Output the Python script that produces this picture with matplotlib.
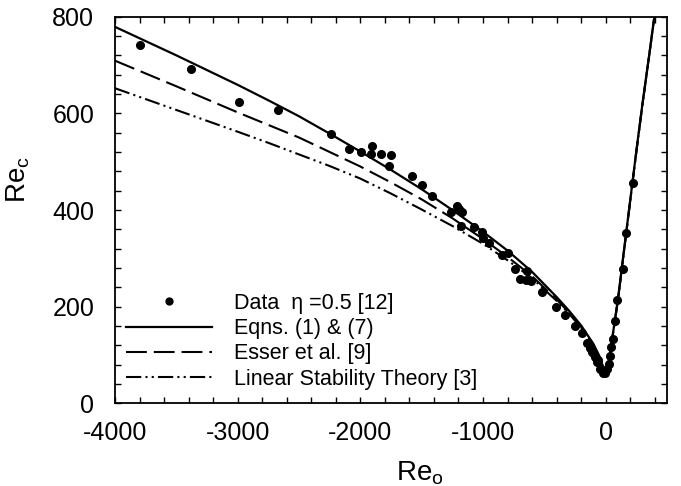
import matplotlib
matplotlib.use('Agg')
import matplotlib.pyplot as plt
from matplotlib.ticker import MultipleLocator

plt.rcParams['font.family'] = ['Liberation Sans', 'DejaVu Sans']
plt.rcParams['mathtext.fontset'] = 'custom'
plt.rcParams['mathtext.rm'] = 'Liberation Sans'
plt.rcParams['mathtext.it'] = 'Liberation Sans:italic'
plt.rcParams['lines.scale_dashes'] = False
plt.rcParams['axes.unicode_minus'] = False

# measured data, eta = 0.5
data_reo = [-3796, -3380, -2986, -2668, -2241, -2094, -1991, -1902, -1910, -1833,
            -1752, -1768, -1581, -1494, -1412, -1262, -1214, -1195, -1173, -1181,
            -1072, -1005, -997, -948, -847, -793, -739, -698, -644, -649,
            -611, -521, -404, -331, -249, -195, -154, -130, -113, -99,
            -85, -72, -59, -45, -30, -18, -5,
            12, 25, 34, 42, 56, 78, 96, 139, 165, 219]
data_rec = [741, 691, 623, 606, 557, 526, 521, 532, 515, 516,
            514, 492, 471, 452, 429, 396, 409, 402, 395, 367,
            364, 354, 343, 331, 307, 310, 277, 257, 274, 255,
            254, 230, 200, 183, 160, 146, 124, 115, 107, 103,
            96, 86, 90, 72, 68, 62, 62,
            70, 82, 97, 117, 134, 171, 214, 277, 352, 456]

# model curves
curve_reo = [-4000, -3500, -3000, -2750, -2500, -2250, -2000, -1750, -1500, -1250,
             -1000, -800, -600, -400, -300, -200, -100, -50, -20, 0,
             25, 50, 75, 100, 150, 200, 250, 300, 350, 410]
eqns_rec = [779, 720, 659, 627, 594, 558, 521, 483, 443, 400,
            355, 316, 272, 220, 192, 161, 123, 97, 75, 67,
            88, 128, 172, 215, 318, 420, 522, 620, 712, 825]
esser_rec = [709, 656, 602, 576, 550, 520, 490, 457, 422, 383,
             340, 303, 263, 215, 188, 158, 120, 95, 73, 66,
             87, 127, 171, 214, 317, 419, 521, 619, 711, 824]
lst_rec = [652, 607, 562, 539, 515, 491, 465, 434, 401, 367,
           330, 296, 259, 212, 186, 156, 119, 94, 72, 65,
           86, 126, 170, 213, 316, 418, 520, 618, 710, 823]

fig = plt.figure(figsize=(6.81, 4.86), dpi=100)
ax = fig.add_axes([115 / 681, 1 - 403.3 / 486, 552 / 681, 386.6 / 486])

ax.plot(data_reo, data_rec, 'o', color='black', markersize=5.5,
        label=r'Data  η =0.5 [12]', zorder=3)
ax.plot(curve_reo, eqns_rec, '-', color='black', lw=1.6, label='Eqns. (1) & (7)')
ax.plot(curve_reo, esser_rec, color='black', lw=1.5, dashes=[15, 5],
        label='Esser et al. [9]')
ax.plot(curve_reo, lst_rec, color='black', lw=1.5,
        dashes=[11, 3, 1.5, 3, 1.5, 3], label='Linear Stability Theory [3]')

ax.set_xlim(-4000, 500)
ax.set_ylim(0, 800)
ax.xaxis.set_major_locator(MultipleLocator(1000))
ax.xaxis.set_minor_locator(MultipleLocator(200))
ax.yaxis.set_major_locator(MultipleLocator(200))
ax.yaxis.set_minor_locator(MultipleLocator(40))
ax.tick_params(which='both', direction='in', top=True, right=True,
               length=4, width=1, labelsize=18)
ax.tick_params(axis='x', which='major', pad=13)
ax.tick_params(axis='y', which='major', pad=15)
for s in ax.spines.values():
    s.set_linewidth(1.3)

ax.set_xlabel(r'Re$_\mathrm{o}$', fontsize=20)
ax.xaxis.set_label_coords(0.553, -0.145)
ax.set_ylabel(r'Re$_\mathrm{c}$', fontsize=20)
ax.yaxis.set_label_coords(-0.15, 0.58)

leg = ax.legend(loc='lower left', bbox_to_anchor=(0.02, 0.035), frameon=False,
                fontsize=15.5, handlelength=4, handletextpad=1.0,
                labelspacing=0.2, borderpad=0, borderaxespad=0,
                markerscale=0.9)

fig.savefig('out.png', dpi=100)
